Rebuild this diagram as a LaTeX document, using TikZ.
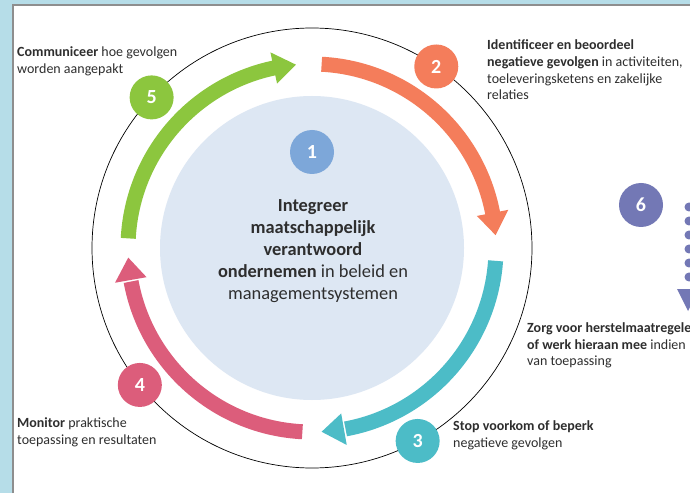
\documentclass[tikz,border=0pt]{standalone}
\usepackage{fontspec}
\setmainfont{Carlito}
\definecolor{bgblue}{HTML}{B6DDE8}
\definecolor{framegray}{HTML}{8E8E8E}
\definecolor{innerblue}{HTML}{DDE7F3}
\definecolor{onecol}{HTML}{7DA7D9}
\definecolor{cgreen}{HTML}{8CC63E}
\definecolor{corange}{HTML}{F47D5B}
\definecolor{cteal}{HTML}{4CBCC7}
\definecolor{cpink}{HTML}{DC5D7B}
\definecolor{cpurple}{HTML}{7378B5}
\definecolor{textgray}{HTML}{2E2E2E}

\begin{document}
\begin{tikzpicture}[x=1pt,y=1pt,
    badge/.style={circle, fill=#1, minimum size=44pt, inner sep=0pt, text=white,
      font=\fontsize{20}{20}\selectfont\bfseries},
    note/.style={anchor=north west, align=left, inner sep=0pt, text=textgray,
      font=\fontsize{14}{16.8}\selectfont},
    bar/.style={draw=#1, line width=15pt}]
  \useasboundingbox (0,0) rectangle (690,493);
  \clip (0,0) rectangle (690,493);

  % frame
  \fill[bgblue] (0,0) rectangle (690,493);
  \fill[white] (13,0) rectangle (690,488);
  \draw[framegray, line width=2.5pt] (13.2,0) -- (13.2,487.8) -- (690,487.8);

  \begin{scope}[shift={(312,245)}]
    \fill[innerblue] (0,0) circle (152);
    \draw[black, line width=0.7pt] (0,0) circle (220);

    % green
    \draw[bar=cgreen] (177:184) arc[start angle=177, end angle=101.5, radius=184];
    \fill[cgreen] (102:200) -- (95:184) -- (102:168) -- cycle;
    % orange
    \draw[bar=corange] (87:184) arc[start angle=87, end angle=10.5, radius=184];
    \fill[corange] (11:200) -- (4:184) -- (11:168) -- cycle;
    % teal
    \draw[bar=cteal] (-4:184) arc[start angle=-4, end angle=-79.5, radius=184];
    \fill[cteal] (-80:200) -- (-87:184) -- (-80:168) -- cycle;
    % pink
    \draw[bar=cpink] (-93:184) arc[start angle=-93, end angle=-169.5, radius=184];
    \fill[cpink] (-170:200) -- (-177:184) -- (-170:168) -- cycle;

    \node[badge=onecol] (one) at (0,96) {1};
    \node[badge=corange] (two) at (55.6:220) {2};
    \node[badge=cteal] (three) at (-61.3:220) {3};
    \node[badge=cpink] (four) at (218.5:220) {4};
    \node[badge=cgreen] (five) at (136.8:220) {5};

    \node[anchor=north, align=center, inner sep=0pt, text=textgray,
      font=\fontsize{18.4}{22}\selectfont] (mid) at (1,48.6)
      {\textbf{Integreer}\\ \textbf{maatschappelijk}\\ \textbf{verantwoord}\\
       \textbf{ondernemen} in beleid en\\ managementsystemen};
  \end{scope}

  % step 6
  \node[badge=cpurple] (six) at (641,288) {6};
  \foreach \y in {286,272,258,244,230,216}
    \fill[cpurple] (689,\y) circle (4.5);
  \fill[cpurple] (677,204) -- (699,204) -- (688,182) -- cycle;

  % side texts
  \node[note] (comm) at (17,446.5) {\textbf{Communiceer} hoe gevolgen\\worden aangepakt};
  \node[note] (ident) at (487,453.5) {\textbf{Identificeer en beoordeel}\\
    \textbf{negatieve gevolgen} in activiteiten,\\toeleveringsketens en zakelijke\\relaties};
  \node[note] (zorg) at (527,170.7) {\textbf{Zorg voor herstelmaatregelen}\\
    \textbf{of werk hieraan mee} indien\\van toepassing};
  \node[note] (stop) at (453,72.7) {\textbf{Stop voorkom of beperk}\\negatieve gevolgen};
  \node[note] (moni) at (17,75.7) {\textbf{Monitor} praktische\\toepassing en resultaten};
\end{tikzpicture}
\end{document}
